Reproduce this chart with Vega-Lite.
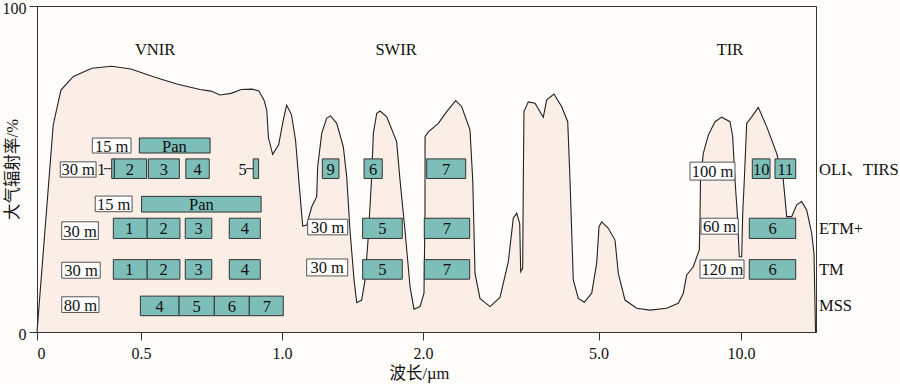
{
  "$schema": "https://vega.github.io/schema/vega-lite/v6.json",
  "width": 779,
  "height": 326,
  "autosize": {"type": "none"},
  "padding": {"left": 37, "top": 6, "right": 84, "bottom": 52},
  "background": "#fffdf9",
  "config": {
    "view": {"stroke": "#333333", "strokeWidth": 1},
    "font": "Liberation Serif",
    "axis": {
      "domainColor": "#333333",
      "tickColor": "#333333",
      "tickSize": 8,
      "grid": false,
      "labelFont": "Liberation Serif",
      "labelFontSize": 16,
      "labelColor": "#111111",
      "titleFont": "Liberation Serif, Noto Sans CJK SC",
      "titleFontSize": 16.5,
      "titleFontWeight": "normal",
      "titleColor": "#111111"
    }
  },
  "datasets": {
    "curve": [
      {"w":0,"t":0},{"w":0.078,"t":63.5},{"w":0.115,"t":74.2},{"w":0.175,"t":78.4},{"w":0.264,"t":80.9},{"w":0.359,"t":81.5},{"w":0.452,"t":80.7},{"w":0.544,"t":78.3},{"w":0.627,"t":76.1},{"w":0.709,"t":74.4},{"w":0.748,"t":73.9},{"w":0.78,"t":72.7},{"w":0.819,"t":73.2},{"w":0.855,"t":74.4},{"w":0.894,"t":74.5},{"w":0.918,"t":73.9},{"w":0.936,"t":71.2},{"w":0.946,"t":68.1},{"w":0.952,"t":59.5},{"w":0.967,"t":54.5},{"w":0.988,"t":57.4},{"w":1.009,"t":65.0},{"w":1.033,"t":69.6},{"w":1.067,"t":66.7},{"w":1.096,"t":58.9},{"w":1.123,"t":44.6},{"w":1.147,"t":32.5},{"w":1.175,"t":32.8},{"w":1.211,"t":38.4},{"w":1.246,"t":41.5},{"w":1.253,"t":50.7},{"w":1.282,"t":61.0},{"w":1.317,"t":65.6},{"w":1.345,"t":66.3},{"w":1.388,"t":64.0},{"w":1.435,"t":56.8},{"w":1.459,"t":47.6},{"w":1.482,"t":31.3},{"w":1.511,"t":16.0},{"w":1.53,"t":9.0},{"w":1.565,"t":9.8},{"w":1.589,"t":16.0},{"w":1.612,"t":29.2},{"w":1.636,"t":47.6},{"w":1.648,"t":61.0},{"w":1.672,"t":67.1},{"w":1.695,"t":67.8},{"w":1.743,"t":66.0},{"w":1.813,"t":58.4},{"w":1.837,"t":46.6},{"w":1.872,"t":31.3},{"w":1.908,"t":13.9},{"w":1.936,"t":7.0},{"w":1.979,"t":7.8},{"w":2.017,"t":11.9},{"w":2.034,"t":36.4},{"w":2.035,"t":59.9},{"w":2.091,"t":61.4},{"w":2.262,"t":64.0},{"w":2.405,"t":67.6},{"w":2.559,"t":71.0},{"w":2.662,"t":69.1},{"w":2.803,"t":62.0},{"w":2.85,"t":46.6},{"w":2.889,"t":18.0},{"w":2.974,"t":10.3},{"w":3.145,"t":7.8},{"w":3.316,"t":10.6},{"w":3.458,"t":21.5},{"w":3.544,"t":35.0},{"w":3.602,"t":36.4},{"w":3.653,"t":33.3},{"w":3.67,"t":18.5},{"w":3.704,"t":19.6},{"w":3.715,"t":46.6},{"w":3.726,"t":67.6},{"w":3.8,"t":70.6},{"w":3.915,"t":70.2},{"w":4.056,"t":65.9},{"w":4.115,"t":71.2},{"w":4.239,"t":73.0},{"w":4.371,"t":69.1},{"w":4.474,"t":64.5},{"w":4.513,"t":46.6},{"w":4.569,"t":16.0},{"w":4.655,"t":10.3},{"w":4.757,"t":9.1},{"w":4.884,"t":11.9},{"w":4.969,"t":21.1},{"w":5.018,"t":32.3},{"w":5.112,"t":33.8},{"w":5.344,"t":31.8},{"w":5.579,"t":28.2},{"w":5.695,"t":18.0},{"w":5.93,"t":9.8},{"w":6.34,"t":7.3},{"w":6.807,"t":6.7},{"w":7.393,"t":7.3},{"w":7.8,"t":8.8},{"w":7.975,"t":11.9},{"w":8.095,"t":17.5},{"w":8.326,"t":20.0},{"w":8.537,"t":25.2},{"w":8.561,"t":34.4},{"w":8.579,"t":46.6},{"w":8.677,"t":54.8},{"w":8.853,"t":60.4},{"w":9.088,"t":64.5},{"w":9.323,"t":65.9},{"w":9.614,"t":64.5},{"w":9.709,"t":59.9},{"w":9.789,"t":46.6},{"w":9.87,"t":36.4},{"w":9.94,"t":23.1},{"w":10.032,"t":23.1},{"w":10.077,"t":36.4},{"w":10.15,"t":46.6},{"w":10.258,"t":64.0},{"w":10.485,"t":66.0},{"w":10.784,"t":68.9},{"w":11.165,"t":63.0},{"w":11.618,"t":54.8},{"w":11.917,"t":46.6},{"w":12.072,"t":35.4},{"w":12.298,"t":35.4},{"w":12.525,"t":39.0},{"w":12.752,"t":40.0},{"w":12.978,"t":37.4},{"w":13.205,"t":30.3},{"w":13.309,"t":24.1},{"w":13.38,"t":0}
    ],
    "bands": [
      {"sensor":"OLI","x1":0.359,"x2":0.372,"y1":47.1,"y2":53.1,"label":""},
      {"sensor":"OLI","x1":0.372,"x2":0.52,"y1":47.1,"y2":53.1,"label":"2"},
      {"sensor":"OLI","x1":0.526,"x2":0.636,"y1":47.1,"y2":53.1,"label":"3"},
      {"sensor":"OLI","x1":0.659,"x2":0.742,"y1":47.1,"y2":53.1,"label":"4"},
      {"sensor":"OLI","x1":0.898,"x2":0.917,"y1":47.1,"y2":53.1,"label":""},
      {"sensor":"OLI","x1":1.286,"x2":1.404,"y1":47.1,"y2":53.1,"label":"9"},
      {"sensor":"OLI","x1":1.582,"x2":1.711,"y1":47.1,"y2":53.1,"label":"6"},
      {"sensor":"OLI","x1":2.063,"x2":2.73,"y1":47.1,"y2":53.1,"label":"7"},
      {"sensor":"TIRS","x1":10.512,"x2":11.315,"y1":47.1,"y2":53.1,"label":"10"},
      {"sensor":"TIRS","x1":11.541,"x2":12.48,"y1":47.1,"y2":53.1,"label":"11"},
      {"sensor":"OLI","x1":0.492,"x2":0.745,"y1":54.9,"y2":59.5,"label":"Pan"},
      {"sensor":"ETM+","x1":0.502,"x2":0.926,"y1":36.8,"y2":41.6,"label":"Pan"},
      {"sensor":"ETM+","x1":0.367,"x2":0.522,"y1":28.7,"y2":34.9,"label":"1"},
      {"sensor":"ETM+","x1":0.522,"x2":0.638,"y1":28.7,"y2":34.9,"label":"2"},
      {"sensor":"ETM+","x1":0.657,"x2":0.751,"y1":28.7,"y2":34.9,"label":"3"},
      {"sensor":"ETM+","x1":0.813,"x2":0.923,"y1":28.7,"y2":34.9,"label":"4"},
      {"sensor":"ETM+","x1":1.572,"x2":1.853,"y1":28.7,"y2":34.9,"label":"5"},
      {"sensor":"ETM+","x1":2.022,"x2":2.798,"y1":28.7,"y2":34.9,"label":"7"},
      {"sensor":"ETM+","x1":10.376,"x2":12.48,"y1":28.7,"y2":34.9,"label":"6"},
      {"sensor":"TM","x1":0.367,"x2":0.522,"y1":16.2,"y2":22.2,"label":"1"},
      {"sensor":"TM","x1":0.522,"x2":0.638,"y1":16.2,"y2":22.2,"label":"2"},
      {"sensor":"TM","x1":0.657,"x2":0.751,"y1":16.2,"y2":22.2,"label":"3"},
      {"sensor":"TM","x1":0.813,"x2":0.923,"y1":16.2,"y2":22.2,"label":"4"},
      {"sensor":"TM","x1":1.572,"x2":1.853,"y1":16.2,"y2":22.2,"label":"5"},
      {"sensor":"TM","x1":2.022,"x2":2.798,"y1":16.2,"y2":22.2,"label":"7"},
      {"sensor":"TM","x1":10.376,"x2":12.48,"y1":16.2,"y2":22.2,"label":"6"},
      {"sensor":"MSS","x1":0.497,"x2":0.635,"y1":5.0,"y2":11.0,"label":"4"},
      {"sensor":"MSS","x1":0.635,"x2":0.76,"y1":5.0,"y2":11.0,"label":"5"},
      {"sensor":"MSS","x1":0.76,"x2":0.884,"y1":5.0,"y2":11.0,"label":"6"},
      {"sensor":"MSS","x1":0.884,"x2":1.009,"y1":5.0,"y2":11.0,"label":"7"}
    ],
    "boxes": [
      {"x1":0.266,"x2":0.452,"y1":54.9,"y2":59.5,"label":"15 m"},
      {"x1":0.112,"x2":0.284,"y1":47.5,"y2":52.2,"label":"30 m"},
      {"x1":8.211,"x2":9.789,"y1":46.6,"y2":52.1,"label":"100 m"},
      {"x1":0.28,"x2":0.457,"y1":36.9,"y2":41.7,"label":"15 m"},
      {"x1":0.119,"x2":0.295,"y1":28.4,"y2":33.8,"label":"30 m"},
      {"x1":1.182,"x2":1.466,"y1":29.8,"y2":34.6,"label":"30 m"},
      {"x1":8.596,"x2":9.905,"y1":30.0,"y2":34.9,"label":"60 m"},
      {"x1":0.119,"x2":0.304,"y1":16.5,"y2":21.4,"label":"30 m"},
      {"x1":1.175,"x2":1.466,"y1":17.2,"y2":22.4,"label":"30 m"},
      {"x1":8.561,"x2":10.136,"y1":16.5,"y2":22.1,"label":"120 m"},
      {"x1":0.119,"x2":0.298,"y1":6.0,"y2":10.8,"label":"80 m"}
    ],
    "leaders": [
      {"x1":0.322,"x2":0.359,"y":50.1,"tx":0.31,"label":"1"},
      {"x1":0.872,"x2":0.898,"y":50.1,"tx":0.86,"label":"5"}
    ],
    "regions": [
      {"w":0.55,"t":86.5,"label":"VNIR"},
      {"w":1.809,"t":86.5,"label":"SWIR"},
      {"w":9.614,"t":86.5,"label":"TIR"}
    ],
    "sensors": [
      {"w":13.536,"t":49.7,"label":"OLI、TIRS"},
      {"w":13.536,"t":31.6,"label":"ETM+"},
      {"w":13.536,"t":19.0,"label":"TM"},
      {"w":13.536,"t":8.0,"label":"MSS"}
    ]
  },
  "layer": [
    {
      "data": {"name": "curve"},
      "mark": {"type": "area", "color": "#fbeee6"},
      "encoding": {
        "x": {
          "field": "w", "type": "quantitative",
          "scale": {"domain": [0, 0.5, 1, 2, 5, 10, 13.4], "range": [0, 104, 245, 386, 561.5, 704, 779], "nice": false, "zero": false},
          "axis": {
            "values": [0, 0.5, 1, 2, 5, 10],
            "labelExpr": "datum.value == 0 ? '0' : format(datum.value, '.1f')",
            "title": "波长/µm",
            "titleX": 382,
            "labelPadding": 5,
            "titlePadding": 4
          }
        },
        "y": {
          "field": "t", "type": "quantitative",
          "scale": {"domain": [0, 100], "nice": false, "zero": true},
          "axis": {
            "values": [0, 100],
            "title": "大气辐射率/%",
            "titleX": -17,
            "labelPadding": 3,
            "labelOffset": 2
          }
        }
      }
    },
    {
      "data": {"name": "curve"},
      "mark": {"type": "line", "color": "#222222", "strokeWidth": 1.1},
      "encoding": {
        "x": {"field": "w", "type": "quantitative"},
        "y": {"field": "t", "type": "quantitative"}
      }
    },
    {
      "data": {"name": "leaders"},
      "mark": {"type": "rule", "color": "#222222", "strokeWidth": 1},
      "encoding": {
        "x": {"field": "x1", "type": "quantitative"},
        "x2": {"field": "x2"},
        "y": {"field": "y", "type": "quantitative"}
      }
    },
    {
      "data": {"name": "leaders"},
      "mark": {"type": "text", "fontSize": 16.5, "color": "#111111", "baseline": "middle", "dy": 1},
      "encoding": {
        "x": {"field": "tx", "type": "quantitative"},
        "y": {"field": "y", "type": "quantitative"},
        "text": {"field": "label"}
      }
    },
    {
      "data": {"name": "bands"},
      "mark": {"type": "rect", "fill": "#7dbeb8", "stroke": "#333333", "strokeWidth": 1},
      "encoding": {
        "x": {"field": "x1", "type": "quantitative"},
        "x2": {"field": "x2"},
        "y": {"field": "y1", "type": "quantitative"},
        "y2": {"field": "y2"}
      }
    },
    {
      "data": {"name": "boxes"},
      "mark": {"type": "rect", "fill": "#ffffff", "stroke": "#555555", "strokeWidth": 1},
      "encoding": {
        "x": {"field": "x1", "type": "quantitative"},
        "x2": {"field": "x2"},
        "y": {"field": "y1", "type": "quantitative"},
        "y2": {"field": "y2"}
      }
    },
    {
      "data": {"name": "bands"},
      "transform": [
        {"calculate": "(datum.x1 + datum.x2) / 2", "as": "xm"},
        {"calculate": "(datum.y1 + datum.y2) / 2", "as": "ym"}
      ],
      "mark": {"type": "text", "fontSize": 16.5, "color": "#111111", "baseline": "middle", "align": "center", "dy": 1},
      "encoding": {
        "x": {"field": "xm", "type": "quantitative"},
        "y": {"field": "ym", "type": "quantitative"},
        "text": {"field": "label"}
      }
    },
    {
      "data": {"name": "boxes"},
      "transform": [
        {"calculate": "(datum.x1 + datum.x2) / 2", "as": "xm"},
        {"calculate": "(datum.y1 + datum.y2) / 2", "as": "ym"}
      ],
      "mark": {"type": "text", "fontSize": 16.5, "color": "#111111", "baseline": "middle", "align": "center", "dy": 1},
      "encoding": {
        "x": {"field": "xm", "type": "quantitative"},
        "y": {"field": "ym", "type": "quantitative"},
        "text": {"field": "label"}
      }
    },
    {
      "data": {"name": "regions"},
      "mark": {"type": "text", "fontSize": 16.5, "color": "#111111", "baseline": "middle", "align": "center"},
      "encoding": {
        "x": {"field": "w", "type": "quantitative"},
        "y": {"field": "t", "type": "quantitative"},
        "text": {"field": "label"}
      }
    },
    {
      "data": {"name": "sensors"},
      "mark": {"type": "text", "fontSize": 16.5, "color": "#111111", "baseline": "middle", "align": "left", "font": "Liberation Serif, Noto Sans CJK SC"},
      "encoding": {
        "x": {"field": "w", "type": "quantitative"},
        "y": {"field": "t", "type": "quantitative"},
        "text": {"field": "label"}
      }
    }
  ]
}
